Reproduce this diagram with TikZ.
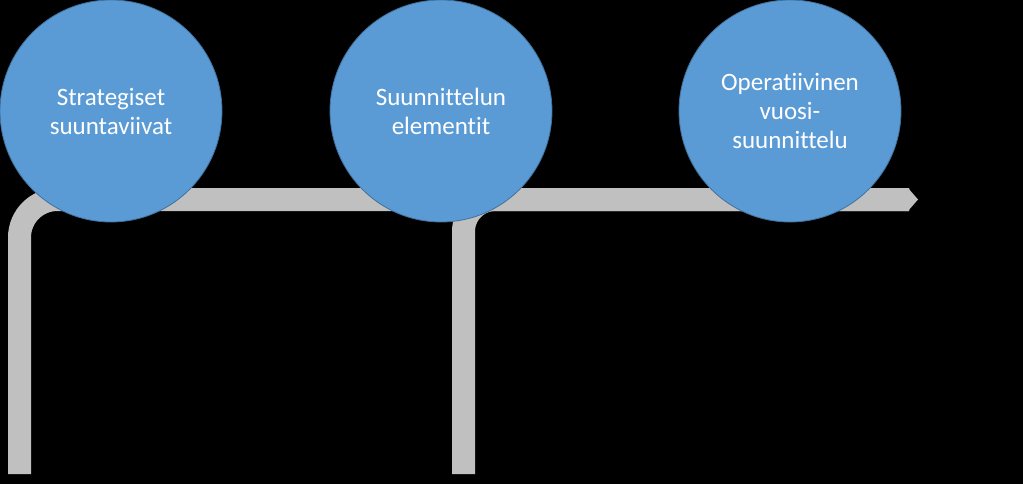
\documentclass[tikz,border=0pt]{standalone}
\usepackage{fontspec}
\setmainfont{Carlito}[Ligatures={NoCommon}]
\definecolor{bub}{HTML}{5B9BD5}
\definecolor{bubline}{HTML}{41719C}
\definecolor{track}{HTML}{C0C0C0}
\begin{document}
\begin{tikzpicture}[x=1pt,y=-1pt,
  bubble/.style={circle,fill=bub,draw=bubline,line width=0.8pt,minimum size=222pt,inner sep=0pt,
    text=white,font=\fontsize{25}{29}\selectfont,align=center},
  trackline/.style={draw=track,line width=23pt,line cap=butt,rounded corners=38pt}]
\useasboundingbox[fill=black] (0,0) rectangle (1023,484);
\coordinate (s1) at (19.5,474);
\coordinate (c1) at (19.5,199.5);
\coordinate (s2) at (463.5,474);
\coordinate (c2) at (463.5,199.5);
\coordinate (e) at (909,199.5);
\draw[trackline] (s1) -- (c1) -- (e);
\draw[trackline,rounded corners=32pt] (s2) -- (c2) -- (e);
\fill[track] (908,188) -- (918,199.5) -- (908,211) -- cycle;
\node[bubble] (a) at (111,111) {Strategiset\\suuntaviivat};
\node[bubble] (b) at (441,111) {Suunnittelun\\elementit};
\node[bubble] (c) at (790,111) {Operatiivinen\\vuosi-\\suunnittelu};
\end{tikzpicture}
\end{document}
